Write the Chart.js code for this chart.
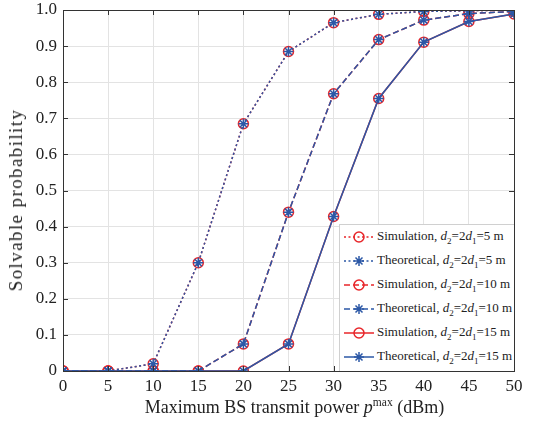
<!DOCTYPE html>
<html><head><meta charset="utf-8">
<script src="https://cdn.jsdelivr.net/npm/chart.js@4"></script>
<style>
html,body{margin:0;padding:0;background:#fff;}
#wrap{position:relative;width:534px;height:427px;}
canvas{position:absolute;left:0;top:0;}
#xt{position:absolute;left:69px;width:451px;top:397px;text-align:center;font-family:"Liberation Serif";font-size:18px;color:#222;white-space:nowrap;}
#xt sup{font-size:11.5px;vertical-align:0;position:relative;top:-7px;}
#yt{position:absolute;left:16px;top:200px;transform:translate(-50%,-50%) rotate(-90deg);font-family:"Liberation Serif";font-size:19px;letter-spacing:1.4px;color:#222;white-space:nowrap;line-height:20px;}
#leg{position:absolute;left:339px;top:224px;width:175px;height:147px;background:#fff;border-left:1px solid #d0d0d0;border-top:1px solid #d0d0d0;box-sizing:border-box;font-family:"Liberation Serif";font-size:13px;color:#222;}
.row{position:absolute;left:0;height:24px;width:175px;}
.row svg{position:absolute;left:2px;top:0;}
.row span{position:absolute;left:37px;top:3px;white-space:nowrap;}
.row sub{font-size:9px;vertical-align:0;position:relative;top:4px;}
</style></head>
<body><div id="wrap"><canvas id="c" width="534" height="427"></canvas>
<div id="xt">Maximum BS transmit power <i>p</i><sup>max</sup> (dBm)</div>
<div id="yt">Solvable probability</div>
<div id="leg"></div></div>
<script>
const powers = [0,5,10,15,20,25,30,35,40,45,50];
const sim5  = [0,0,0.02,0.30,0.685,0.885,0.965,0.988,0.996,0.998,1.0];
const the5  = [0,0,0.02,0.30,0.685,0.885,0.965,0.988,0.996,0.998,1.0];
const sim10 = [0,0,0,0,0.075,0.44,0.768,0.918,0.972,0.990,0.996];
const the10 = [0,0,0,0,0.075,0.44,0.768,0.918,0.972,0.990,0.996];
const sim15 = [0,0,0,0,0,0.075,0.428,0.755,0.911,0.968,0.989];
const the15 = [0,0,0,0,0,0.075,0.428,0.755,0.911,0.968,0.989];
const yTicks = [0,0.1,0.2,0.3,0.4,0.5,0.6,0.7,0.8,0.9,1.0];
const legendLabels = [
 ['Simulation','5'],['Theoretical','5'],['Simulation','10'],['Theoretical','10'],['Simulation','15'],['Theoretical','15']];

const RED='#e8262a', BLUE='#2c58a6';
const dashes=[[2,2.5],[6,3],[]];
function pts(arr){return arr.map((v,i)=>({x:powers[i],y:v}));}
function ds(arr,kind,d){
  const sim = kind==='sim';
  return {data:pts(arr),borderColor:sim?RED:BLUE,backgroundColor:'rgba(0,0,0,0)',
   borderWidth:1.5,borderDash:dashes[d],pointStyle:sim?'circle':'star',pointRadius:5,
   pointBorderColor:sim?RED:BLUE,pointBackgroundColor:'rgba(0,0,0,0)',pointBorderWidth:1.5,
   order:sim?1:0,tension:0,fill:false};
}
const boxPlugin={id:'box',afterDraw(ch){
  const c=ch.ctx,a=ch.chartArea;c.save();c.strokeStyle='#333';c.lineWidth=1;
  c.beginPath();
  const xs=ch.scales.x, ys=ch.scales.y;
  xs.ticks.forEach(t=>{const x=Math.round(xs.getPixelForValue(t.value))+0.5;
    c.moveTo(x,a.bottom);c.lineTo(x,a.bottom-5);c.moveTo(x,a.top);c.lineTo(x,a.top+5);});
  ys.ticks.forEach(t=>{const y=Math.round(ys.getPixelForValue(t.value))+0.5;
    c.moveTo(a.left,y);c.lineTo(a.left+5,y);c.moveTo(a.right,y);c.lineTo(a.right-5,y);});
  c.stroke();
  c.strokeRect(Math.round(a.left)+0.5,Math.round(a.top)+0.5,Math.round(a.right-a.left),Math.round(a.bottom-a.top));
  c.restore();
}};
new Chart(document.getElementById('c'),{
 type:'line',
 data:{datasets:[ds(sim5,'sim',0),ds(the5,'the',0),ds(sim10,'sim',1),ds(the10,'the',1),ds(sim15,'sim',2),ds(the15,'the',2)]},
 options:{responsive:false,animation:false,devicePixelRatio:1,
  layout:{padding:{top:10,right:20,left:0,bottom:0}},
  plugins:{legend:{display:false},tooltip:{enabled:false}},
  scales:{
   x:{type:'linear',min:0,max:50,
     afterBuildTicks(s){s.ticks=powers.map(v=>({value:v}));},
     afterFit(s){s.height=56;s.paddingLeft=0;s.paddingRight=0;},
     grid:{color:'#e3e3e3',lineWidth:1,drawTicks:false},border:{display:false},
     ticks:{padding:5,color:'#222',font:{family:'Liberation Serif',size:17},maxRotation:0,callback:v=>String(v)}},
   y:{type:'linear',min:0,max:1,
     afterBuildTicks(s){s.ticks=yTicks.map(v=>({value:v}));},
     afterFit(s){s.width=63;s.paddingTop=0;s.paddingBottom=0;},
     grid:{color:'#e3e3e3',lineWidth:1,drawTicks:false},border:{display:false},
     ticks:{padding:6,color:'#222',font:{family:'Liberation Serif',size:17},callback:v=>v===0?'0':v.toFixed(1)}}
  }},
 plugins:[boxPlugin]
});
// legend
const leg=document.getElementById('leg');
legendLabels.forEach((l,i)=>{
  const d=Math.floor(i/2), sim=(i%2===0), col=sim?RED:BLUE;
  const r=document.createElement('div');r.className='row';r.style.top=(i*24)+'px';
  const da=dashes[d].length?dashes[d].join(','):'none';
  let mk = sim ? `<circle cx="17" cy="12" r="5" fill="none" stroke="${col}" stroke-width="1.5"/>`
    : `<path d="M17 7V17M12 12H22M13.5 8.5L20.5 15.5M20.5 8.5L13.5 15.5" stroke="${col}" stroke-width="1.5"/>`;
  r.innerHTML=`<svg width="34" height="24"><line x1="2" y1="12" x2="32" y2="12" stroke="${col}" stroke-width="1.5" stroke-dasharray="${da}"/>${mk}</svg>`+
   `<span>${l[0]}, <i>d</i><sub>2</sub>=2<i>d</i><sub>1</sub>=${l[1]} m</span>`;
  leg.appendChild(r);
});
</script></body></html>
